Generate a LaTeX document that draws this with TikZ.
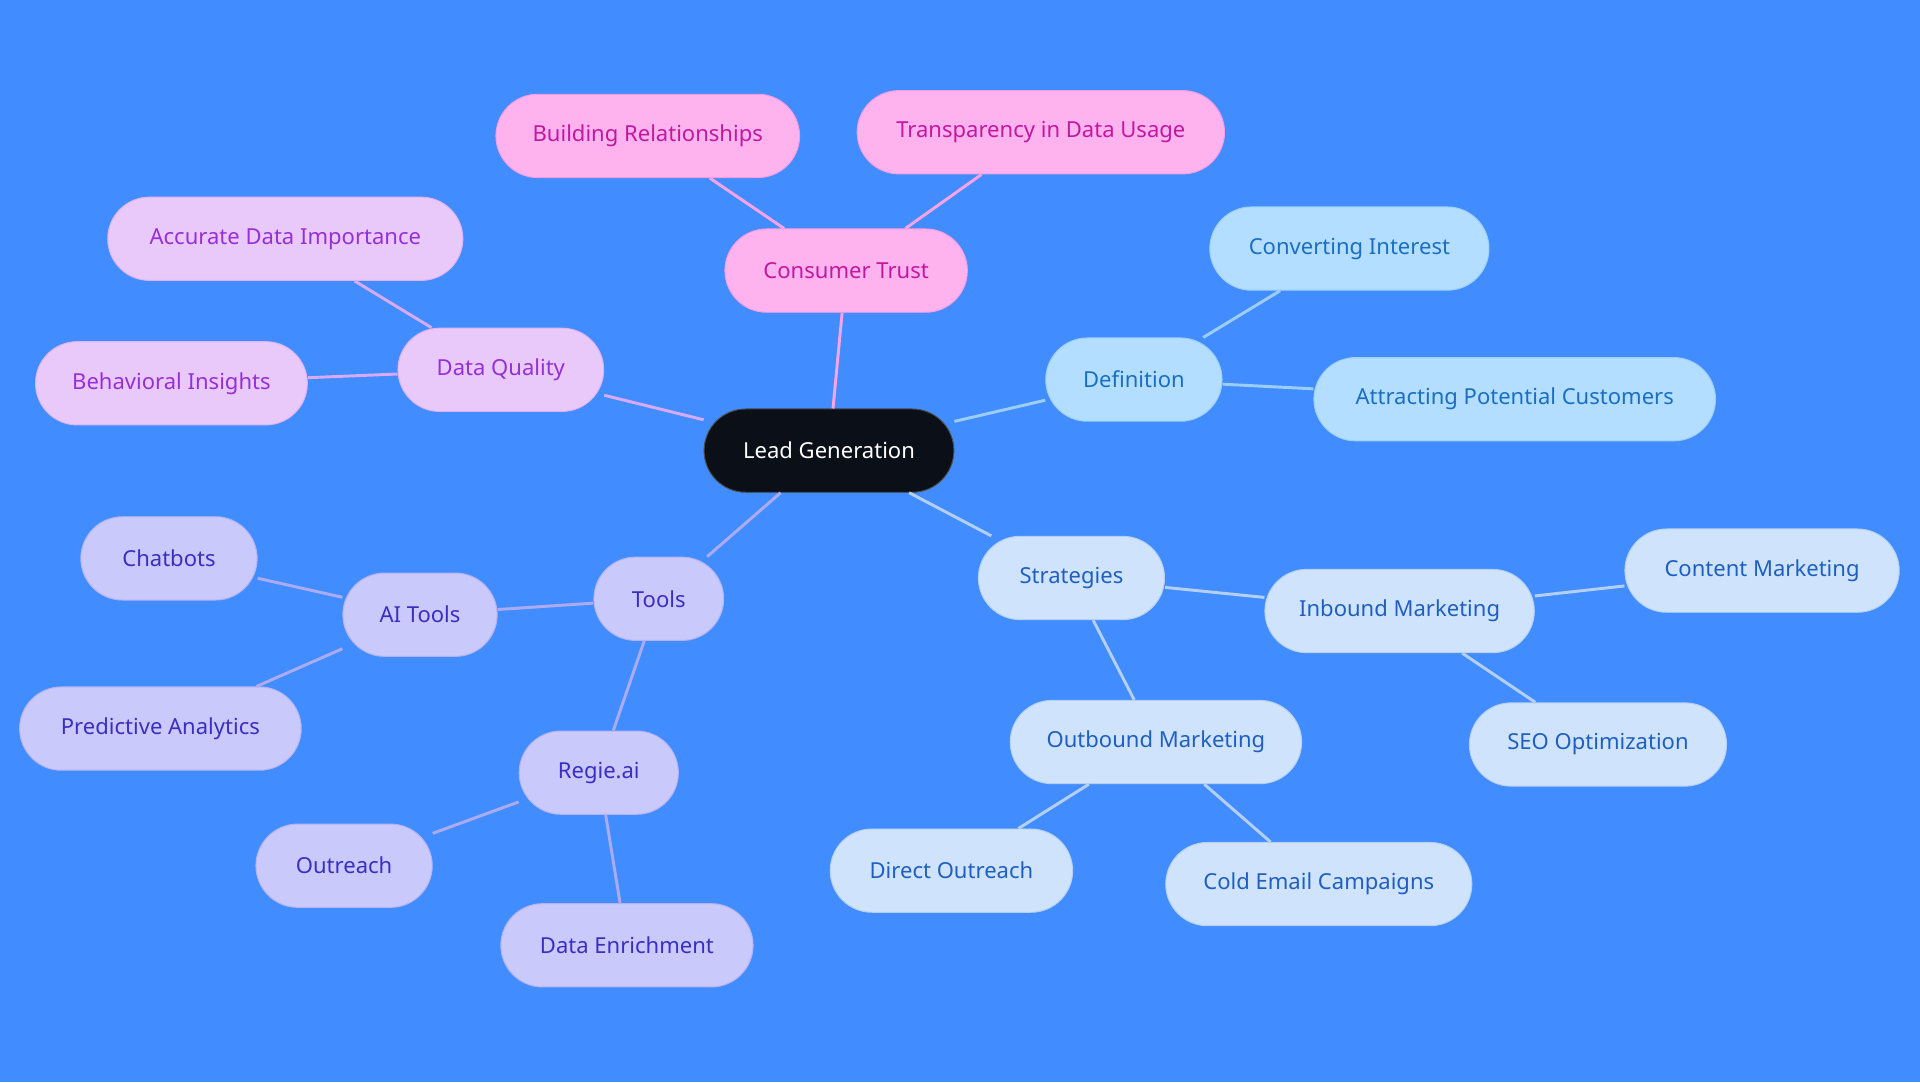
\documentclass[tikz,border=0pt]{standalone}
\usepackage{fontspec}
\setmainfont{Noto Sans}
\usetikzlibrary{positioning}
\definecolor{bgcol}{HTML}{418DFF}
\definecolor{rootcol}{HTML}{0B0F17}
\definecolor{pinkfill}{HTML}{FFB3EE}\definecolor{pinktext}{HTML}{C2179F}
\definecolor{lilacfill}{HTML}{E9C9FA}\definecolor{lilactext}{HTML}{9630D6}
\definecolor{skyfill}{HTML}{B3DEFF}\definecolor{skytext}{HTML}{1A6FC2}
\definecolor{palefill}{HTML}{CFE3FC}\definecolor{paletext}{HTML}{1F5FBF}
\definecolor{violfill}{HTML}{C9C9FC}\definecolor{violtext}{HTML}{3A2FC0}
\tikzset{
  leaf/.style={rounded corners=17pt,minimum height=34pt,font=\fontsize{9}{11}\selectfont,inner sep=0pt},
  pink/.style={leaf,fill=pinkfill,draw=pinkfill!85!pinktext,text=pinktext},
  lilac/.style={leaf,fill=lilacfill,draw=lilacfill!85!lilactext,text=lilactext},
  sky/.style={leaf,fill=skyfill,draw=skyfill!85!skytext,text=skytext},
  pale/.style={leaf,fill=palefill,draw=palefill!85!paletext,text=paletext},
  viol/.style={leaf,fill=violfill,draw=violfill!85!violtext,text=violtext},
  w/.style={minimum width=#1*0.5pt},
  edge/.style={line width=1.2pt}
}
\begin{document}
\begin{tikzpicture}[x=0.5pt,y=-0.5pt]
  \fill[bgcol] (0,0) rectangle (1568,884);
  \useasboundingbox (0,0) rectangle (1568,884);
  % nodes
  \node[leaf,fill=rootcol,draw=gray!60!black,text=white,w=204] (lead) at (677,368) {Lead Generation};
  \node[pink,w=198] (trust) at (691,221) {Consumer Trust};
  \node[pink,w=248] (relat) at (529,111) {Building Relationships};
  \node[pink,w=300] (transp) at (850,108) {Transparency in Data Usage};
  \node[lilac,w=168] (quality) at (409,302) {Data Quality};
  \node[lilac,w=290] (accur) at (233,195) {Accurate Data Importance};
  \node[lilac,w=222] (behav) at (140,313) {Behavioral Insights};
  \node[sky,w=144] (defin) at (926,310) {Definition};
  \node[sky,w=228] (convert) at (1102,203) {Converting Interest};
  \node[sky,w=328] (attract) at (1237,326) {Attracting Potential Customers};
  \node[pale,w=152] (strat) at (875,472) {Strategies};
  \node[pale,w=220] (inbound) at (1143,499) {Inbound Marketing};
  \node[pale,w=224] (content) at (1439,466) {Content Marketing};
  \node[pale,w=210] (seo) at (1305,608) {SEO Optimization};
  \node[pale,w=238] (outbound) at (944,606) {Outbound Marketing};
  \node[pale,w=198] (direct) at (777,711) {Direct Outreach};
  \node[pale,w=250] (cold) at (1077,722) {Cold Email Campaigns};
  \node[viol,w=106] (tools) at (538,489) {Tools};
  \node[viol,w=126] (ai) at (343,502) {AI Tools};
  \node[viol,w=144] (chat) at (138,456) {Chatbots};
  \node[viol,w=230] (predict) at (131,595) {Predictive Analytics};
  \node[viol,w=130] (regie) at (489,631) {Regie.ai};
  \node[viol,w=144] (outreach) at (281,707) {Outreach};
  \node[viol,w=206] (enrich) at (512,772) {Data Enrichment};
  % edges
  \draw[edge,pinkfill!90!pinktext] (lead) -- (trust) (trust) -- (relat) (trust) -- (transp);
  \draw[edge,lilacfill!80!lilactext] (lead) -- (quality) (quality) -- (accur) (quality) -- (behav);
  \draw[edge,skyfill!85!skytext] (lead) -- (defin) (defin) -- (convert) (defin) -- (attract);
  \draw[edge,palefill!85!paletext] (lead) -- (strat) (strat) -- (inbound) (inbound) -- (content)
    (inbound) -- (seo) (strat) -- (outbound) (outbound) -- (direct) (outbound) -- (cold);
  \draw[edge,violfill!80!violtext] (lead) -- (tools) (tools) -- (ai) (ai) -- (chat) (ai) -- (predict)
    (tools) -- (regie) (regie) -- (outreach) (regie) -- (enrich);
\end{tikzpicture}
\end{document}
